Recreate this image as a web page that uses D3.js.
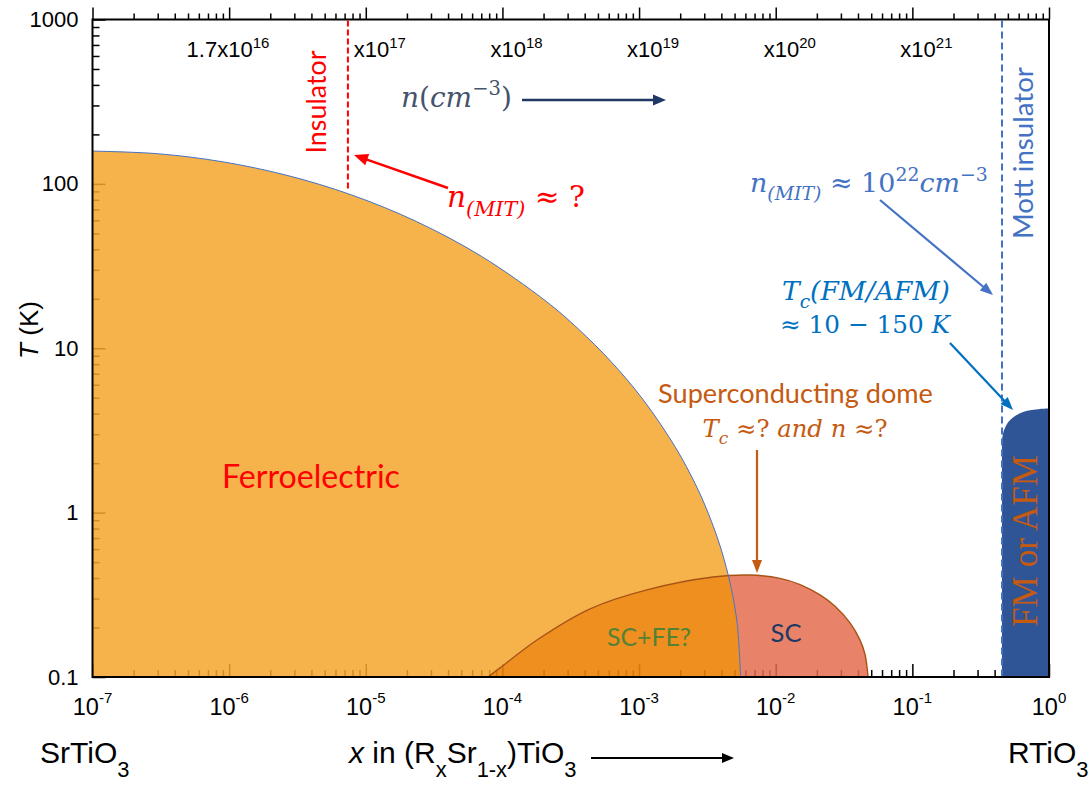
<!DOCTYPE html>
<html>
<head>
<meta charset="utf-8">
<script src="https://cdn.jsdelivr.net/npm/d3@7"></script>
<style>
  body { margin: 0; background: #fff; }
  svg { display: block; }
</style>
</head>
<body>
<svg id="chart" width="1092" height="785"></svg>
<script>
// ---- axis values -------------------------------------------------------
// Doping fraction x on a log axis, temperature T (K) on a log axis
const xDecades   = [1e-7, 1e-6, 1e-5, 1e-4, 1e-3, 1e-2, 1e-1, 1];
const xExponents = ["-7", "-6", "-5", "-4", "-3", "-2", "-1", "0"];
const tDecades   = [0.1, 1, 10, 100, 1000];
const tLabels    = ["0.1", "1", "10", "100", "1000"];
// Carrier density n along the upper edge, one label per decade of x
const nDecades   = [1e-6, 1e-5, 1e-4, 1e-3, 1e-2, 1e-1];
const nPrefix    = ["1.7", "", "", "", "", ""];
const nExponents = ["16", "17", "18", "19", "20", "21"];

// ---- phase boundaries ----------------------------------------------------
// Ferroelectric transition temperature vs x
const ferroX = [1e-7, 2.98e-7, 8.88e-7, 2.647e-6, 7.88e-6, 2.35e-5, 7.0e-5, 2.088e-4, 3.604e-4,
                6.22e-4, 1.074e-3, 1.854e-3, 2.573e-3, 3.2e-3, 3.982e-3, 4.69e-3, 5.235e-3, 5.527e-3];
const ferroT = [158.3, 152.6, 136.4, 112.7, 85.6, 59.0, 36.3, 19.3, 13.07,
                8.31, 4.85, 2.48, 1.50, 0.997, 0.600, 0.3566, 0.2087, 0.1];
// Superconducting dome
const domeX = [7.84e-5, 9.6e-5, 1.79e-4, 4.38e-4, 1.14e-3, 3.48e-3, 6.48e-3, 0.01075, 0.01507,
               0.0211, 0.02716, 0.03497, 0.0414, 0.045, 0.0474];
const domeT = [0.1, 0.1136, 0.168, 0.26, 0.339, 0.406, 0.417, 0.398, 0.365,
               0.3156, 0.2692, 0.2134, 0.1677, 0.1376, 0.1];
// Magnetic (FM / AFM) region next to RTiO3
const fmX = [0.453, 0.469, 0.519, 0.646, 0.859, 1];
const fmT = [2.77, 3.18, 3.66, 4.10, 4.27, 4.3];
// Metal-insulator limits
const insulatorX = 7.4e-6, insulatorTmin = 90;
const mottX = 0.453;

// ---- scales -------------------------------------------------------------
const plot = { left: 92.5, right: 1049, top: 19.5, bottom: 677 };
const x = d3.scaleLog().domain([1e-7, 1]).range([plot.left, plot.right]);
const y = d3.scaleLog().domain([0.1, 1000]).range([plot.bottom, plot.top]);

const svg = d3.select("#chart");
const defs = svg.append("defs");

const SANS = "'Liberation Sans', Arial, sans-serif";
const CAL  = "Lato, 'Open Sans', sans-serif";
const MATH = "'DejaVu Serif', serif";
const TIMES = "'Liberation Serif', serif";

// ---- tick marks ------------------------------------------------------------
const minorOf = decs => {
  const out = [];
  decs.slice(0, -1).forEach(d => { for (let k = 2; k <= 9; k++) out.push(k * d); });
  return out;
};
const xMinor = minorOf(xDecades);
const tMinor = minorOf(tDecades);

function ticks(axisFn, scale, values, size, tr) {
  const g = svg.append("g").attr("transform", tr)
    .call(axisFn(scale).tickValues(values).tickSizeInner(size).tickSizeOuter(0).tickFormat(""));
  g.select(".domain").remove();
  g.selectAll(".tick line").attr("stroke", "#000").attr("stroke-width", 1.5);
  return g;
}
ticks(d3.axisBottom, x, xDecades, -13, `translate(0,${plot.bottom})`);
ticks(d3.axisBottom, x, xMinor, -7, `translate(0,${plot.bottom})`);
ticks(d3.axisTop, x, xDecades, 12, `translate(0,${plot.top})`);
ticks(d3.axisTop, x, xMinor, 6, `translate(0,${plot.top})`);
ticks(d3.axisLeft, y, tDecades, -13, `translate(${plot.left},0)`);
ticks(d3.axisLeft, y, tMinor, -7, `translate(${plot.left},0)`);

// left tick labels
const yLab = svg.append("g").attr("transform", `translate(${plot.left},0)`)
  .call(d3.axisLeft(y).tickValues(tDecades).tickSize(0).tickPadding(14)
        .tickFormat((d, i) => tLabels[i]));
yLab.select(".domain").remove();
yLab.attr("font-family", SANS).attr("font-size", 22);
yLab.selectAll("text").attr("fill", "#000");

// ---- rich text helper ---------------------------------------------------
// parts: {t, i: italic, k: size factor, sup / sub: shift in em of base size}
function richText(parts, o) {
  const t = svg.append("text")
    .attr("fill", o.color || "#000")
    .attr("font-family", o.family)
    .attr("text-anchor", o.anchor || "start");
  const build = base => {
    t.selectAll("tspan").remove();
    t.attr("font-size", base);
    let cur = 0;
    parts.forEach(p => {
      const off = p.sup ? -p.sup * base : p.sub ? p.sub * base : 0;
      t.append("tspan").text(p.t)
        .attr("font-size", base * (p.k || 1))
        .attr("font-style", p.i ? "italic" : "normal")
        .attr("dy", off - cur);
      cur = off;
    });
  };
  build(o.size || 20);
  if (o.width) {
    const w = t.node().getComputedTextLength();
    build((o.size || 20) * o.width / w);
  }
  if (o.rotate) t.attr("transform", `translate(${o.x},${o.y}) rotate(-90)`);
  else t.attr("x", o.x).attr("y", o.y);
  return t;
}

function arrow(x1, y1, x2, y2, color, w = 2, head = 12, hw = 5) {
  const a = Math.atan2(y2 - y1, x2 - x1);
  const bx = x2 - head * Math.cos(a), by = y2 - head * Math.sin(a);
  svg.append("line").attr("x1", x1).attr("y1", y1)
    .attr("x2", bx + Math.cos(a)).attr("y2", by + Math.sin(a))
    .attr("stroke", color).attr("stroke-width", w);
  const px = -Math.sin(a) * hw, py = Math.cos(a) * hw;
  svg.append("path")
    .attr("d", `M${x2},${y2}L${bx + px},${by + py}L${bx - px},${by - py}Z`)
    .attr("fill", color);
}

// ---- phase regions ------------------------------------------------------
const smooth = d3.curveCatmullRom.alpha(0.5);
const area = d3.area().x(d => x(d[0])).y0(y(0.1)).y1(d => y(d[1])).curve(smooth);
const line = d3.line().x(d => x(d[0])).y(d => y(d[1])).curve(smooth);
const ferroPts = ferroX.map((v, i) => [v, ferroT[i]]);
const domePts = domeX.map((v, i) => [v, domeT[i]]);
const fmPts = fmX.map((v, i) => [v, fmT[i]]);
const ferroPath = area(ferroPts), domePath = area(domePts);

defs.append("clipPath").attr("id", "plotClip").append("rect")
  .attr("x", plot.left).attr("y", plot.top)
  .attr("width", plot.right - plot.left).attr("height", plot.bottom - plot.top);
defs.append("clipPath").attr("id", "ferroClip").append("path").attr("d", ferroPath);
const mOutFerro = defs.append("mask").attr("id", "outFerro").attr("maskUnits", "userSpaceOnUse")
  .attr("x", 0).attr("y", 0).attr("width", 1092).attr("height", 785);
mOutFerro.append("rect").attr("width", 1092).attr("height", 785).attr("fill", "#fff");
mOutFerro.append("path").attr("d", ferroPath).attr("fill", "#000");
const mOutDome = defs.append("mask").attr("id", "outDome").attr("maskUnits", "userSpaceOnUse")
  .attr("x", 0).attr("y", 0).attr("width", 1092).attr("height", 785);
mOutDome.append("rect").attr("width", 1092).attr("height", 785).attr("fill", "#fff");
mOutDome.append("path").attr("d", domePath).attr("fill", "#000");

const regions = svg.append("g").attr("clip-path", "url(#plotClip)");
// ferroelectric only
regions.append("path").attr("d", ferroPath).attr("mask", "url(#outDome)")
  .attr("fill", "rgb(244,164,44)").attr("fill-opacity", 0.85);
// superconducting only
regions.append("path").attr("d", domePath).attr("mask", "url(#outFerro)")
  .attr("fill", "rgb(228,109,80)").attr("fill-opacity", 0.85);
// coexistence SC + FE
regions.append("g").attr("clip-path", "url(#ferroClip)")
  .append("path").attr("d", domePath)
  .attr("fill", "rgb(237,131,7)").attr("fill-opacity", 0.9);
// magnetic region
regions.append("path").attr("d", area(fmPts)).attr("fill", "#2F5597");

// frame
svg.append("rect").attr("x", plot.left).attr("y", plot.top)
  .attr("width", plot.right - plot.left).attr("height", plot.bottom - plot.top)
  .attr("fill", "none").attr("stroke", "#000").attr("stroke-width", 2);

// boundaries
regions.append("path").attr("d", domePath).attr("fill", "none")
  .attr("stroke", "#A65416").attr("stroke-width", 1.4);
regions.append("path").attr("d", line(ferroPts)).attr("fill", "none")
  .attr("stroke", "#4472C4").attr("stroke-width", 1);

// insulator limits
svg.append("line").attr("x1", x(insulatorX)).attr("x2", x(insulatorX))
  .attr("y1", plot.top + 1).attr("y2", y(insulatorTmin))
  .attr("stroke", "#FF0000").attr("stroke-width", 2).attr("stroke-dasharray", "6,3");
svg.append("line").attr("x1", x(mottX)).attr("x2", x(mottX))
  .attr("y1", plot.top + 1).attr("y2", plot.bottom - 1)
  .attr("stroke", "#4472C4").attr("stroke-width", 2).attr("stroke-dasharray", "7,4");

// ---- axis labels ------------------------------------------------------------
xDecades.forEach((d, i) => {
  richText([{ t: "10" }, { t: xExponents[i], k: 0.64, sup: 0.5 }],
    { x: x(d), y: 715, anchor: "middle", family: SANS, size: 23.5 });
});
nDecades.forEach((d, i) => {
  richText([{ t: "x10" }, { t: nExponents[i], k: 0.68, sup: 0.42 }],
    { x: x(d) - 12, y: 57, family: SANS, size: 22 });
  if (nPrefix[i]) richText([{ t: nPrefix[i] }],
    { x: x(d) - 12, y: 57, anchor: "end", family: SANS, size: 22 });
});
richText([{ t: "T", i: true }, { t: " (K)" }],
  { x: 38, y: 330, rotate: true, anchor: "middle", family: SANS, size: 26 });
richText([{ t: "SrTiO" }, { t: "3", k: 0.73, sub: 0.45 }],
  { x: 40, y: 763, family: SANS, size: 30 });
richText([{ t: "RTiO" }, { t: "3", k: 0.73, sub: 0.45 }],
  { x: 1008, y: 763, family: SANS, size: 30 });
richText([{ t: "x", i: true }, { t: " in (R" }, { t: "x", k: 0.73, sub: 0.45 }, { t: "Sr" },
          { t: "1-x", k: 0.73, sub: 0.45 }, { t: ")TiO" }, { t: "3", k: 0.73, sub: 0.45 }],
  { x: 349, y: 763, family: SANS, size: 30 });
arrow(591, 758, 734, 758, "#000", 2, 12, 5);

// ---- annotations ------------------------------------------------------------
richText([{ t: "Insulator" }],
  { x: 326, y: 102, rotate: true, anchor: "middle", family: CAL, color: "#FF0000", width: 103 });
arrow(448, 188, 354, 155, "#FF0000", 2.5, 14, 6);
richText([{ t: "n", i: true }, { t: "(MIT)", i: true, k: 0.7, sub: 0.3 }, { t: " ≈ ?" }],
  { x: 447, y: 207, family: MATH, color: "#FF0000", width: 138 });

richText([{ t: "n", i: true }, { t: "(", }, { t: "cm", i: true }, { t: "−3", k: 0.7, sup: 0.42 }, { t: ")" }],
  { x: 401, y: 107, family: MATH, color: "#44546A", width: 111 });
arrow(522, 100, 666, 100, "#1F3864", 2.5, 13, 5.5);

richText([{ t: "n", i: true }, { t: "(MIT)", i: true, k: 0.7, sub: 0.3 }, { t: " ≈ 10" },
          { t: "22", k: 0.7, sup: 0.42 }, { t: "cm", i: true }, { t: "−3", k: 0.7, sup: 0.42 }],
  { x: 750, y: 192, family: MATH, color: "#4472C4", width: 238 });
arrow(880, 200, 993, 295, "#4472C4", 2.2, 13, 5);
richText([{ t: "Mott insulator" }],
  { x: 1033, y: 153, rotate: true, anchor: "middle", family: CAL, color: "#4472C4", width: 172 });

richText([{ t: "T", i: true }, { t: "c", i: true, k: 0.7, sub: 0.3 }, { t: "(FM/AFM)", i: true }],
  { x: 866, y: 300, anchor: "middle", family: MATH, color: "#0070C0", width: 168 });
richText([{ t: "≈ 10 − 150 " }, { t: "K", i: true }],
  { x: 865, y: 333, anchor: "middle", family: MATH, color: "#0070C0", width: 170 });
arrow(950, 343, 1013, 410, "#0070C0", 2.2, 13, 5);

richText([{ t: "Superconducting dome" }],
  { x: 795.5, y: 403, anchor: "middle", family: CAL, color: "#C55A11", width: 275 });
richText([{ t: "T", i: true }, { t: "c", i: true, k: 0.7, sub: 0.3 }, { t: " ≈? " },
          { t: "and n", i: true }, { t: " ≈?" }],
  { x: 795, y: 437, anchor: "middle", family: MATH, color: "#C55A11", width: 185 });
arrow(757, 450, 757, 573, "#C55A11", 2.2, 13, 5);

richText([{ t: "Ferroelectric" }],
  { x: 311, y: 488, anchor: "middle", family: CAL, color: "#FF0000", width: 178 });
richText([{ t: "SC+FE?" }],
  { x: 649, y: 646, anchor: "middle", family: CAL, color: "#548235", width: 84 });
richText([{ t: "SC" }],
  { x: 786, y: 642, anchor: "middle", family: CAL, color: "#203864", width: 31 });
richText([{ t: "FM or AFM" }],
  { x: 1037, y: 541, rotate: true, anchor: "middle", family: TIMES, color: "#C55A11", width: 172 });
</script>
</body>
</html>
